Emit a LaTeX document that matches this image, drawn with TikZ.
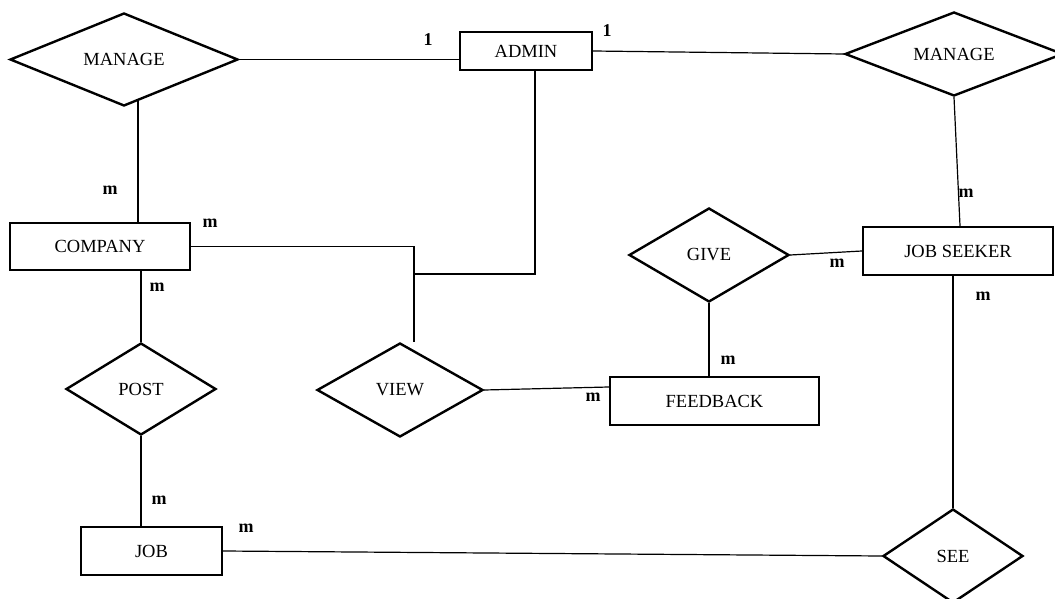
\documentclass[tikz,border=0pt]{standalone}
\usepackage{fontspec}
\setmainfont{Liberation Serif}
\usetikzlibrary{shapes.geometric,backgrounds}
\begin{document}
\begin{tikzpicture}[x=1pt,y=-1pt,
  lbl/.style={font=\fontsize{18.5}{21}\selectfont},
  entity/.style={draw, line width=2.4pt, fill=white, inner sep=0pt, lbl},
  relation/.style={draw, diamond, line width=2.4pt, fill=white, inner sep=0pt, shape aspect=2, lbl},
  conn/.style={line width=1.2pt},
  card/.style={inner sep=0pt, font=\fontsize{18}{20}\selectfont\bfseries}
]
\useasboundingbox (0,0) rectangle (1055,599);
% entities
\node[entity, minimum width=132pt, minimum height=38pt] (admin) at (526,51) {ADMIN};
\node[entity, minimum width=180pt, minimum height=47pt] (company) at (100,246.5) {COMPANY};
\node[entity, minimum width=190pt, minimum height=48pt] (jobseeker) at (958,251) {JOB SEEKER};
\node[entity, minimum width=209pt, minimum height=48pt] (feedback) at (714.5,401) {FEEDBACK};
\node[entity, minimum width=141pt, minimum height=48pt] (job) at (151.5,551) {JOB};
% relationships
\node[relation, minimum width=228pt, minimum height=93pt] (mgL) at (124,59.5) {MANAGE};
\node[relation, minimum width=218pt, minimum height=84pt] (mgR) at (954,54) {MANAGE};
\node[relation, minimum width=160pt, minimum height=94pt] (give) at (709,255) {GIVE};
\node[relation, minimum width=150pt, minimum height=92pt] (post) at (141,389) {POST};
\node[relation, minimum width=166pt, minimum height=94pt] (view) at (400,390) {VIEW};
\node[relation, minimum width=140pt, minimum height=94pt] (see) at (953,556) {SEE};
\coordinate (vj) at (414,274);
% connectors
\begin{pgfonlayer}{background}
\draw[conn] (mgL.east) -- (mgL.east -| admin.west);
\draw[conn] (admin.east) -- (mgR.west);
\draw[conn] (mgR.south) -- ([xshift=2pt]jobseeker.north);
\draw[conn] ([xshift=14pt]mgL.center) -- ([xshift=14pt]mgL.center |- company.north);
\draw[conn] (post.north |- company.south) -- (post.north);
\draw[conn] (post.south) -- (post.south |- job.north);
\draw[conn] (company.east) -| ([xshift=14pt]view.north);
\draw[conn] ([xshift=9pt]admin.south) |- (vj);
\draw[conn] (give.east) -- (jobseeker.west);
\draw[conn] (give.south) -- (give.south |- feedback.north);
\draw[conn] (view.east) -- ([yshift=14pt]feedback.west);
\draw[conn] (see.north |- jobseeker.south) -- (see.north);
\draw[conn] (job.east) -- (see.west);
\end{pgfonlayer}
% cardinalities
\node[card] (c1) at (428,40) {1};
\node[card] (c2) at (607,31) {1};
\node[card] (c3) at (110,190) {m};
\node[card] (c4) at (210,223) {m};
\node[card] (c5) at (157,287) {m};
\node[card] (c6) at (159,500) {m};
\node[card] (c7) at (246,528) {m};
\node[card] (c8) at (966,193) {m};
\node[card] (c9) at (837,263) {m};
\node[card] (c10) at (983,296) {m};
\node[card] (c11) at (728,360) {m};
\node[card] (c12) at (593,397) {m};
\end{tikzpicture}
\end{document}
